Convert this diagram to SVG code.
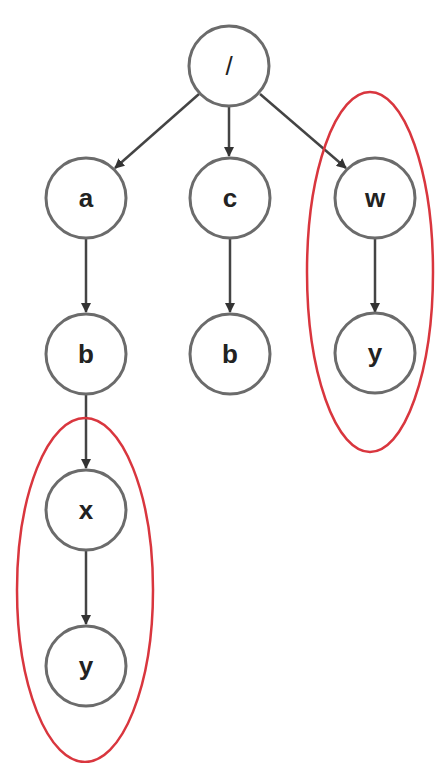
<svg xmlns="http://www.w3.org/2000/svg" width="438" height="763" viewBox="0 0 438 763">
<style>
.n circle{fill:#fff;stroke:#6b6b6b;stroke-width:3}
.n text{font-family:"Liberation Sans",Arial,sans-serif;font-weight:bold;font-size:26px;fill:#222;text-anchor:middle;dominant-baseline:central}
.n text.thin{font-weight:normal}
.e{stroke:#444;stroke-width:2.5;fill:none;marker-end:url(#ah)}
.hl{fill:none;stroke:#d9363e;stroke-width:2.5}
</style>
<defs>
<marker id="ah" markerWidth="10" markerHeight="10" refX="9" refY="5" orient="auto" markerUnits="userSpaceOnUse" viewBox="0 0 10 10">
<path d="M0,0 L10,5 L0,10 z" fill="#333"/>
</marker>
</defs>
<rect width="438" height="763" fill="#fff"/>
<g id="connectors">
<line class="e" x1="199" y1="94" x2="115" y2="168"/>
<line class="e" x1="229" y1="106" x2="229" y2="156"/>
<line class="e" x1="260" y1="94" x2="346" y2="168"/>
<line class="e" x1="86" y1="239" x2="86" y2="312"/>
<line class="e" x1="230" y1="239" x2="230" y2="312"/>
<line class="e" x1="375" y1="239" x2="375" y2="312"/>
<line class="e" x1="86" y1="395" x2="86" y2="468"/>
<line class="e" x1="86" y1="551" x2="86" y2="624"/>
</g>
<g id="node-root" class="n"><circle cx="229" cy="66" r="40"/><text class="thin" x="229" y="66">/</text></g>
<g id="node-a" class="n"><circle cx="86" cy="198" r="40"/><text x="86" y="198">a</text></g>
<g id="node-c" class="n"><circle cx="230" cy="198" r="40"/><text x="230" y="198">c</text></g>
<g id="node-w" class="n"><circle cx="375" cy="198" r="40"/><text x="375" y="198">w</text></g>
<g id="node-b1" class="n"><circle cx="86" cy="354" r="40"/><text x="86" y="354">b</text></g>
<g id="node-b2" class="n"><circle cx="230" cy="354" r="40"/><text x="230" y="354">b</text></g>
<g id="node-y1" class="n"><circle cx="375" cy="353" r="40"/><text x="375" y="353">y</text></g>
<g id="node-x" class="n"><circle cx="86" cy="510" r="40"/><text x="86" y="510">x</text></g>
<g id="node-y2" class="n"><circle cx="86" cy="666" r="40"/><text x="86" y="666">y</text></g>
<g id="highlights">
<ellipse class="hl" cx="370" cy="272" rx="63" ry="180"/>
<ellipse class="hl" cx="85" cy="590" rx="68" ry="172"/>
</g>
</svg>
